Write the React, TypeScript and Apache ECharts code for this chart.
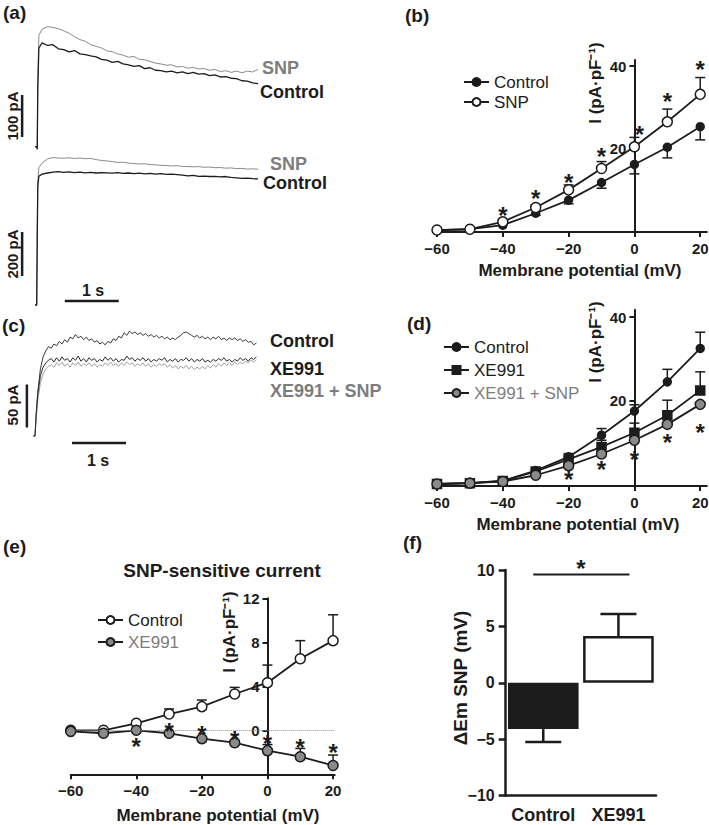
import React, { useEffect, useRef } from 'react';
import * as echarts from 'echarts';

const FONT = "'Liberation Sans', Arial, Helvetica, sans-serif";
const INK = '#1c1c1c';
const GREY = '#8a8a8a';
const GREY_TEXT = '#7d7d7d';

// ---------- (a) current traces (time in s, current in pA)
const A_STEP = 0.1;
const A_ONSET_T = [-0.03, 0, 0.01, 0.02, 0.04];
const A1_SNP_ONSET = [0, 0, -6, 150, 265];
const A1_CONTROL_ONSET = [0, 0, -6, 140, 235];
const A1_SNP = [280, 286, 284, 281, 276, 270, 262, 255, 251, 243,
  239, 235, 228, 226, 221, 218, 213, 215, 208, 207,
  203, 199, 197, 194, 195, 190, 191, 187, 189, 185,
  186, 182, 184, 179, 181, 177, 180, 176, 180, 178,
  184];
const A1_CONTROL = [247, 241, 243, 233, 231, 226, 229, 221, 219, 216,
  214, 208, 206, 201, 203, 197, 195, 191, 193, 186,
  188, 182, 181, 178, 180, 176, 178, 174, 177, 173,
  174, 169, 171, 166, 167, 163, 162, 157, 156, 152,
  150];
const A2_SNP_ONSET = [0, 0, 320, 560, 625];
const A2_CONTROL_ONSET = [0, 0, 300, 540, 585];
const A2_SNP = [645, 664, 670, 668, 667, 669, 666, 668, 665, 666,
  661, 657, 655, 652, 648, 649, 645, 643, 641, 642,
  638, 637, 635, 634, 632, 633, 630, 629, 628, 629,
  626, 627, 624, 625, 622, 623, 620, 621, 618, 619,
  617];
const A2_CONTROL = [595, 600, 604, 606, 603, 605, 602, 604, 601, 603,
  600, 602, 601, 599, 602, 598, 600, 597, 599, 596,
  598, 595, 597, 594, 595, 593, 590, 587, 589, 585,
  586, 584, 585, 582, 584, 580, 578, 576, 577, 574,
  573];

// ---------- (c) current traces
const C_STEP = 0.05;
const C_ONSET_T = [-0.03, 0, 0.02];
const C_CONTROL_ONSET = [0, 0, 25];
const C_XE991_ONSET = [0, 0, 22];
const C_XE991_SNP_ONSET = [0, 0, 18];
const C_CONTROL = [50, 78, 92, 99, 104, 102, 107, 105, 110, 107,
  112, 109, 115, 113, 118, 114, 116, 112, 115, 111,
  113, 109, 111, 107, 109, 106, 110, 108, 113, 111,
  116, 114, 120, 117, 122, 119, 121, 118, 120, 117,
  119, 116, 118, 115, 117, 114, 116, 113, 115, 112,
  114, 112, 115, 117, 120, 121, 119, 117, 115, 117,
  114, 116, 113, 115, 112, 115, 113, 116, 112, 114,
  111, 114, 112, 114, 111, 113, 110, 112, 109, 110,
  106, 108];
const C_XE991 = [48, 70, 80, 85, 88, 90, 86, 91, 87, 92,
  88, 90, 86, 91, 88, 93, 87, 90, 86, 91,
  88, 90, 86, 89, 87, 92, 88, 91, 87, 90,
  86, 89, 88, 93, 89, 91, 87, 90, 88, 91,
  87, 90, 86, 89, 87, 90, 88, 91, 86, 89,
  87, 90, 86, 89, 88, 91, 87, 90, 86, 89,
  87, 90, 86, 88, 86, 89, 87, 90, 88, 91,
  87, 89, 86, 89, 87, 91, 88, 90, 87, 91,
  89, 92];
const C_XE991_SNP = [40, 62, 72, 78, 81, 83, 80, 85, 82, 86,
  81, 84, 80, 85, 82, 86, 81, 84, 82, 85,
  81, 84, 80, 83, 81, 85, 82, 86, 82, 84,
  81, 85, 82, 86, 83, 85, 81, 84, 82, 85,
  81, 84, 80, 83, 81, 84, 82, 84, 80, 83,
  79, 82, 78, 81, 79, 82, 78, 81, 77, 80,
  78, 81, 78, 82, 79, 83, 80, 84, 81, 85,
  82, 85, 82, 86, 83, 86, 84, 87, 85, 88,
  86, 89];

// ---------- I-V curves (membrane potential in mV, I in pA/pF)
const V = [-60, -50, -40, -30, -20, -10, 0, 10, 20];
const V_TICKS = [-60, -40, -20, 0, 20];

const B_CONTROL = [0, 0.2, 1.2, 4.1, 7.3, 11.6, 16.0, 20.2, 25.2];
const B_CONTROL_SEM = [0, 0, 0.3, 0.5, 0.9, 1.4, 2.3, 2.6, 3.2];
const B_SNP = [0, 0.2, 2.0, 5.5, 9.8, 15.0, 20.3, 26.4, 33.1];
const B_SNP_SEM = [0, 0, 0.4, 0.6, 1.2, 1.7, 2.3, 3.1, 4.1];
const B_STAR_V = [-40, -30, -20, -10, 1.5, 10, 20];
const B_STAR_I = [5.0, 9.1, 13.0, 19.5, 24.8, 32.9, 40.7];
const B_Y_TICKS = [20, 40];

const D_CONTROL = [0, 0.2, 0.8, 3.2, 6.5, 11.7, 17.5, 24.5, 32.5];
const D_CONTROL_SEM = [0, 0, 0.2, 0.4, 0.8, 1.6, 1.5, 3.0, 3.9];
const D_XE991 = [0, 0.2, 0.7, 3.0, 5.9, 8.9, 12.3, 16.5, 22.4];
const D_XE991_SEM = [0, 0, 0.2, 0.4, 0.8, 1.6, 2.3, 3.6, 4.5];
const D_XE991_SNP = [0, 0.2, 0.6, 2.1, 4.4, 7.2, 10.5, 14.3, 19.1];
const D_STAR_V = [-20, -10, 0, 10, 20];
const D_STAR_I = [2.6, 5.0, 7.4, 11.3, 13.9];
const D_Y_TICKS = [20, 40];

const E_CONTROL = [0, 0, 0.64, 1.48, 2.15, 3.3, 4.33, 6.5, 8.15];
const E_CONTROL_SEM = [0, 0, 0.2, 0.46, 0.6, 0.6, 1.6, 1.65, 2.35];
const E_XE991 = [-0.1, -0.27, 0, -0.27, -0.76, -1.13, -1.85, -2.4, -3.2];
const E_XE991_SEM = [0, 0, 0, 0, 0, 0.2, 0.55, 0.75, 0.95];
const E_STAR_V = [-40, -30, -20, -10, 0, 10, 20];
const E_STAR_I = [-0.9, 0.48, 0.18, -0.25, -0.62, -1.0, -1.5];
const E_Y_TICKS = [0, 4, 8, 12];

// ---------- (f) bar chart
const F_GROUPS = ['Control', 'XE991'];
const F_DELTA_EM = [-4.1, 4.15];
const F_SEM = [1.15, 1.95];
const F_SEM_DIR = [-1, 1];
const F_SIG_LEVEL = 9.6;

const minus = (v: number) => (v < 0 ? '\u2212' + Math.abs(v) : String(v));

const trace = (onsetT: number[], onsetV: number[], values: number[], step: number) => [
  ...onsetT.map((t, i) => [t, onsetV[i]]),
  ...values.map((v, i) => [Math.round((i + 1) * step * 1000) / 1000, v]),
];

const pairs = (xs: number[], ys: number[]) => xs.map((x, i) => [x, ys[i]]);

function traceSeries(idx: number, data: any[], color: string, width = 1) {
  return {
    type: 'line', xAxisIndex: idx, yAxisIndex: idx, data, showSymbol: false, symbol: 'none',
    lineStyle: { color, width }, silent: true, z: 2,
  };
}

function barSeries(idx: number, a: number[], b: number[]) {
  return {
    type: 'line', xAxisIndex: idx, yAxisIndex: idx, data: [a, b], showSymbol: false, symbol: 'none',
    lineStyle: { color: INK, width: 2.5 }, silent: true, z: 3,
  };
}

function ivSeries(idx: number, name: string, ys: number[], symbol: string, fill: string, size = 10) {
  return {
    name, type: 'line', xAxisIndex: idx, yAxisIndex: idx, data: pairs(V, ys),
    symbol, symbolSize: size, showSymbol: true,
    lineStyle: { color: INK, width: 1.8 },
    itemStyle: { color: fill, borderColor: INK, borderWidth: 1.5 },
    z: 4, silent: true,
  };
}

function errSeries(idx: number, ys: number[], sem: number[], dir: number, cap = 5, width = 1.5) {
  return {
    type: 'custom', xAxisIndex: idx, yAxisIndex: idx, z: 3, silent: true,
    data: V.map((v, i) => [v, ys[i], ys[i] + dir * sem[i]]),
    renderItem: (params: any, api: any) => {
      const p0 = api.coord([api.value(0), api.value(1)]);
      const p1 = api.coord([api.value(0), api.value(2)]);
      if (Math.abs(p1[1] - p0[1]) < 1.5) return { type: 'group', children: [] };
      return {
        type: 'group', children: [
          { type: 'line', shape: { x1: p0[0], y1: p0[1], x2: p1[0], y2: p1[1] }, style: { stroke: INK, lineWidth: width } },
          { type: 'line', shape: { x1: p1[0] - cap, y1: p1[1], x2: p1[0] + cap, y2: p1[1] }, style: { stroke: INK, lineWidth: width } },
        ],
      };
    },
  };
}

// significance asterisks, centred on the given data position
function starSeries(idx: number, xs: number[], ys: number[]) {
  return {
    type: 'custom', xAxisIndex: idx, yAxisIndex: idx, data: pairs(xs, ys), silent: true, z: 5,
    renderItem: (params: any, api: any) => {
      const p = api.coord([api.value(0), api.value(1)]);
      return {
        type: 'text', x: p[0], y: p[1] + 6,
        style: { text: '*', fontSize: 24, fontWeight: 'bold', fill: INK, align: 'center', verticalAlign: 'middle', fontFamily: FONT },
      };
    },
  };
}

const hiddenAxis = (gridIndex: number, min: number, max: number) => ({ type: 'value', gridIndex, min, max, show: false });

function ivX(gridIndex: number, min: number, max: number) {
  return {
    type: 'value', gridIndex, min, max,
    axisLine: { show: true, onZero: false, lineStyle: { color: INK, width: 2 } },
    axisTick: { show: true, length: 5, lineStyle: { color: INK, width: 2 }, customValues: V_TICKS },
    axisLabel: { show: true, customValues: V_TICKS, formatter: minus, fontSize: 15, fontWeight: 'bold', color: INK, margin: 9, fontFamily: FONT },
    splitLine: { show: false },
  };
}

// the y axis crosses the x axis at 0 mV: shift it right from the grid's left edge
function ivY(gridIndex: number, min: number, max: number, ticks: number[], shift: number) {
  return {
    type: 'value', gridIndex, min, max, position: 'left', offset: -shift,
    axisLine: { show: true, onZero: false, lineStyle: { color: INK, width: 2 } },
    axisTick: { show: true, length: 5, lineStyle: { color: INK, width: 2 }, customValues: ticks },
    axisLabel: { show: true, customValues: ticks, formatter: minus, fontSize: 15, fontWeight: 'bold', color: INK, margin: 8, fontFamily: FONT },
    splitLine: { show: false },
  };
}

function txt(x: number, y: number, text: string, o: any = {}) {
  return {
    type: 'text', x, y, rotation: o.rotation || 0, silent: true,
    style: {
      text, fill: o.color || INK, fontSize: o.size || 17, fontWeight: o.weight || 'bold',
      fontFamily: FONT, align: o.align || 'left', verticalAlign: 'middle',
    },
  };
}

const legendFmt = (name: string) => name.split('|')[1];

// grid geometry of the I-V panels
const BD_LEFT = 437;
const BD_WIDTH = 269.8;
const BD_XMIN = -60;
const BD_XMAX = 22;
const E_LEFT = 70.7;
const E_WIDTH = 264.0;
const E_XMIN = -60;
const E_XMAX = 20.5;

function buildOption() {
  const grid = (left: number, top: number, width: number, height: number) => ({
    left, top, width, height, containLabel: false, outerBoundsMode: 'none',
  });
  const bdShift = (0 - BD_XMIN) * BD_WIDTH / (BD_XMAX - BD_XMIN);
  const eShift = (0 - E_XMIN) * E_WIDTH / (E_XMAX - E_XMIN);
  return {
    animation: false,
    textStyle: { fontFamily: FONT },
    grid: [
      grid(15.1, 20.7, 248.4, 134.4), // 0 (a) upper
      grid(15.1, 146.6, 248.4, 162.8), // 1 (a) lower
      grid(13.4, 324.2, 248.4, 120.4), // 2 (c)
      grid(BD_LEFT, 59.9, BD_WIDTH, 172.2), // 3 (b)
      grid(BD_LEFT, 309.7, BD_WIDTH, 176.4), // 4 (d)
      grid(E_LEFT, 598.3, E_WIDTH, 176), // 5 (e)
      grid(505.7, 570, 150.3, 225.7), // 6 (f)
    ],
    xAxis: [
      hiddenAxis(0, -0.4, 4.2),
      hiddenAxis(1, -0.4, 4.2),
      hiddenAxis(2, -0.4, 4.2),
      ivX(3, BD_XMIN, BD_XMAX),
      ivX(4, BD_XMIN, BD_XMAX),
      ivX(5, E_XMIN, E_XMAX),
      {
        type: 'category', gridIndex: 6, data: F_GROUPS,
        axisLine: { show: true, onZero: false, lineStyle: { color: INK, width: 2.5 } },
        axisTick: { show: false },
        axisLabel: { interval: 0, fontSize: 18, fontWeight: 'bold', color: INK, margin: 10, fontFamily: FONT },
        splitLine: { show: false },
      },
    ],
    yAxis: [
      hiddenAxis(0, -20, 300),
      hiddenAxis(1, -20, 720),
      hiddenAxis(2, -10, 130),
      ivY(3, -0.5, 41.5, B_Y_TICKS, bdShift),
      ivY(4, -0.5, 41.8, D_Y_TICKS, bdShift),
      ivY(5, -4, 12, E_Y_TICKS, eShift),
      {
        type: 'value', gridIndex: 6, min: -10, max: 10, interval: 5,
        axisLine: { show: true, lineStyle: { color: INK, width: 2.5 } },
        axisTick: { show: true, length: 7, lineStyle: { color: INK, width: 2.5 } },
        axisLabel: { formatter: minus, fontSize: 16, fontWeight: 'bold', color: INK, margin: 11, fontFamily: FONT },
        splitLine: { show: false },
      },
    ],
    legend: [
      {
        left: 458, top: 68.5, orient: 'vertical', itemWidth: 25, itemHeight: 10, itemGap: 3, selectedMode: false,
        data: ['b|Control', 'b|SNP'], formatter: legendFmt,
        textStyle: { fontSize: 17, color: INK, fontFamily: FONT },
      },
      {
        left: 438, top: 333.5, orient: 'vertical', itemWidth: 25, itemHeight: 10, itemGap: 6, selectedMode: false,
        data: ['d|Control', 'd|XE991', { name: 'd|XE991 + SNP', textStyle: { color: GREY_TEXT } }], formatter: legendFmt,
        textStyle: { fontSize: 17, color: INK, fontFamily: FONT },
      },
      {
        left: 92, top: 606.5, orient: 'vertical', itemWidth: 25, itemHeight: 10, itemGap: 5, selectedMode: false,
        data: ['e|Control', { name: 'e|XE991', textStyle: { color: GREY_TEXT } }], formatter: legendFmt,
        textStyle: { fontSize: 17, color: INK, fontFamily: FONT },
      },
    ],
    series: [
      // (a)
      traceSeries(0, trace(A_ONSET_T, A1_SNP_ONSET, A1_SNP, A_STEP), GREY),
      traceSeries(0, trace(A_ONSET_T, A1_CONTROL_ONSET, A1_CONTROL, A_STEP), INK, 1.3),
      barSeries(0, [-0.27, 23], [-0.27, 123]),
      traceSeries(1, trace(A_ONSET_T, A2_SNP_ONSET, A2_SNP, A_STEP), GREY),
      traceSeries(1, trace(A_ONSET_T, A2_CONTROL_ONSET, A2_CONTROL, A_STEP), INK, 1.3),
      barSeries(1, [-0.27, 132], [-0.27, 332]),
      barSeries(1, [0.52, 18], [1.52, 18]),
      // (c)
      traceSeries(2, trace(C_ONSET_T, C_CONTROL_ONSET, C_CONTROL, C_STEP), '#3a3a3a'),
      traceSeries(2, trace(C_ONSET_T, C_XE991_SNP_ONSET, C_XE991_SNP, C_STEP), '#a0a0a0'),
      traceSeries(2, trace(C_ONSET_T, C_XE991_ONSET, C_XE991, C_STEP), '#2a2a2a'),
      barSeries(2, [-0.15, 10], [-0.15, 60]),
      barSeries(2, [0.685, -8], [1.685, -8]),
      // (b)
      errSeries(3, B_CONTROL, B_CONTROL_SEM, -1),
      errSeries(3, B_SNP, B_SNP_SEM, 1),
      ivSeries(3, 'b|Control', B_CONTROL, 'circle', INK, 8),
      ivSeries(3, 'b|SNP', B_SNP, 'circle', '#ffffff', 10),
      starSeries(3, B_STAR_V, B_STAR_I),
      // (d)
      errSeries(4, D_CONTROL, D_CONTROL_SEM, 1),
      errSeries(4, D_XE991, D_XE991_SEM, 1),
      ivSeries(4, 'd|Control', D_CONTROL, 'circle', INK, 8),
      ivSeries(4, 'd|XE991', D_XE991, 'rect', INK, 9),
      ivSeries(4, 'd|XE991 + SNP', D_XE991_SNP, 'circle', GREY, 10),
      starSeries(4, D_STAR_V, D_STAR_I),
      // (e)
      errSeries(5, E_CONTROL, E_CONTROL_SEM, 1),
      errSeries(5, E_XE991, E_XE991_SEM, 1),
      {
        ...ivSeries(5, 'e|Control', E_CONTROL, 'circle', '#ffffff', 10),
        markLine: {
          silent: true, symbol: ['none', 'none'], label: { show: false },
          lineStyle: { type: 'dotted', color: '#888', width: 1 }, data: [{ yAxis: 0 }],
        },
      },
      ivSeries(5, 'e|XE991', E_XE991, 'circle', GREY, 10),
      starSeries(5, E_STAR_V, E_STAR_I),
      // (f)
      {
        type: 'bar', xAxisIndex: 6, yAxisIndex: 6, barWidth: '94%', silent: true, z: 2,
        data: F_DELTA_EM.map((v, i) => ({
          value: v,
          itemStyle: i === 0
            ? { color: INK, borderColor: INK, borderWidth: 2.5 }
            : { color: '#ffffff', borderColor: INK, borderWidth: 2.5 },
        })),
      },
      {
        type: 'custom', xAxisIndex: 6, yAxisIndex: 6, z: 3, silent: true,
        data: F_DELTA_EM.map((v, i) => [i, v, v + F_SEM_DIR[i] * F_SEM[i]]),
        renderItem: (params: any, api: any) => {
          const p0 = api.coord([api.value(0), api.value(1)]);
          const p1 = api.coord([api.value(0), api.value(2)]);
          return {
            type: 'group', children: [
              { type: 'line', shape: { x1: p0[0], y1: p0[1], x2: p1[0], y2: p1[1] }, style: { stroke: INK, lineWidth: 2.5 } },
              { type: 'line', shape: { x1: p1[0] - 18, y1: p1[1], x2: p1[0] + 18, y2: p1[1] }, style: { stroke: INK, lineWidth: 2.5 } },
            ],
          };
        },
      },
      {
        type: 'custom', xAxisIndex: 6, yAxisIndex: 6, z: 3, silent: true,
        data: [[0, F_SIG_LEVEL]],
        renderItem: (params: any, api: any) => {
          const c0 = api.coord([0, api.value(1)]);
          const c1 = api.coord([1, api.value(1)]);
          return {
            type: 'group', children: [
              { type: 'line', shape: { x1: c0[0] - 10, y1: c0[1], x2: c1[0] + 11, y2: c1[1] }, style: { stroke: INK, lineWidth: 2 } },
              {
                type: 'text', x: (c0[0] + c1[0]) / 2, y: c0[1] - 6,
                style: { text: '*', fontSize: 24, fontWeight: 'bold', fill: INK, align: 'center', verticalAlign: 'middle', fontFamily: FONT },
              },
            ],
          };
        },
      },
    ],
    graphic: [
      txt(3, 12, '(a)', { size: 19 }),
      txt(405, 15, '(b)', { size: 19 }),
      txt(2, 325, '(c)', { size: 19 }),
      txt(407, 323, '(d)', { size: 19 }),
      txt(3, 546, '(e)', { size: 19 }),
      txt(403, 542, '(f)', { size: 19 }),
      // (a) labels
      txt(262, 68, 'SNP', { size: 18, color: GREY_TEXT }),
      txt(260, 92, 'Control', { size: 18 }),
      txt(270, 164, 'SNP', { size: 18, color: GREY_TEXT }),
      txt(263, 183, 'Control', { size: 18 }),
      txt(12, 116, '100 pA', { size: 15, align: 'center', rotation: Math.PI / 2 }),
      txt(12, 254, '200 pA', { size: 15, align: 'center', rotation: Math.PI / 2 }),
      txt(93, 290, '1 s', { size: 16, align: 'center' }),
      // (c) labels
      txt(270, 341, 'Control', { size: 18 }),
      txt(270, 369, 'XE991', { size: 18 }),
      txt(270, 391, 'XE991 + SNP', { size: 18, color: GREY_TEXT }),
      txt(12, 405, '50 pA', { size: 15, align: 'center', rotation: Math.PI / 2 }),
      txt(98, 460, '1 s', { size: 16, align: 'center' }),
      // axis titles
      txt(595, 83, 'I (pA\u00B7pF\u207B\u00B9)', { size: 17, align: 'center', rotation: Math.PI / 2 }),
      txt(580, 270, 'Membrane potential (mV)', { size: 17, align: 'center' }),
      txt(595, 342, 'I (pA\u00B7pF\u207B\u00B9)', { size: 17, align: 'center', rotation: Math.PI / 2 }),
      txt(578, 524, 'Membrane potential (mV)', { size: 17, align: 'center' }),
      txt(222, 570, 'SNP-sensitive current', { size: 19, align: 'center' }),
      txt(229, 632, 'I (pA\u00B7pF\u207B\u00B9)', { size: 17, align: 'center', rotation: Math.PI / 2 }),
      txt(218, 815, 'Membrane potential (mV)', { size: 17, align: 'center' }),
      txt(460, 678, '\u0394Em SNP (mV)', { size: 19, align: 'center', rotation: Math.PI / 2 }),
    ],
  };
}

export default function App() {
  const ref = useRef<HTMLDivElement | null>(null);
  useEffect(() => {
    if (!ref.current) return;
    const chart = echarts.init(ref.current, null, { renderer: 'svg' });
    chart.setOption(buildOption() as any);
    return () => chart.dispose();
  }, []);
  return (
    <div
      ref={ref}
      style={{ position: 'absolute', left: 0, top: 0, width: 709, height: 825, background: '#ffffff' }}
    />
  );
}
